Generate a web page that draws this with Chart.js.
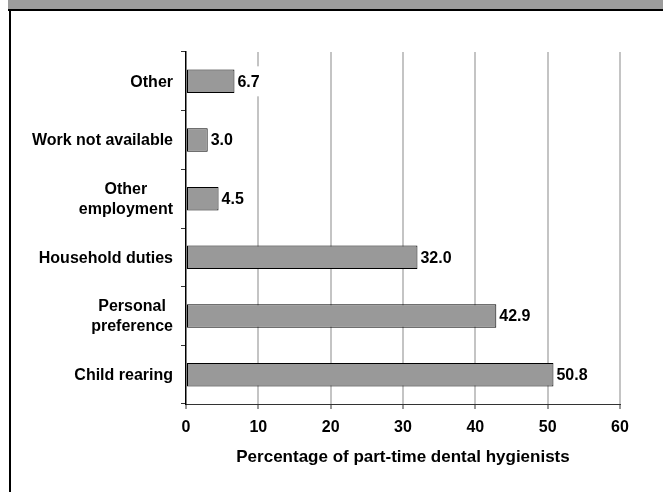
<!DOCTYPE html>
<html>
<head>
<meta charset="utf-8">
<script src="https://cdn.jsdelivr.net/npm/chart.js@4/dist/chart.umd.min.js"></script>
<style>
    html, body { margin: 0; padding: 0; background: #fff; }
    #wrap { position: relative; width: 663px; height: 492px; overflow: hidden; }
    #header { position: absolute; left: 8px; top: 0; width: 655px; height: 9px; background: #9c9c9c; border-bottom: 2px solid #000; }
    #leftLine { position: absolute; left: 9px; top: 9px; width: 2px; height: 483px; background: #000; }
    #chart { position: absolute; left: 0; top: 0; }
</style>
</head>
<body>
<div id="wrap">
    <canvas id="chart" width="663" height="492"></canvas>
    <div id="header"></div>
    <div id="leftLine"></div>
</div>
<script>
// categories, top to bottom
const categories = [
    ['Other'],
    ['Work not available'],
    ['Other', 'employment'],
    ['Household duties'],
    ['Personal', 'preference'],
    ['Child rearing']
];
const percentages = [6.7, 3.0, 4.5, 32.0, 42.9, 50.8];
const xTicks = [0, 10, 20, 30, 40, 50, 60];
const xTitle = 'Percentage of part-time dental hygienists';

const FONT = '"Liberation Sans", Arial, sans-serif';

// draws the category names (centred lines, right edge fixed) and the value labels
const labelPlugin = {
    id: 'labelPlugin',
    afterDatasetsDraw: function (chart) {
        const ctx = chart.ctx;
        const meta = chart.getDatasetMeta(0);
        ctx.save();
        ctx.font = 'bold 16px ' + FONT;
        ctx.textBaseline = 'middle';
        meta.data.forEach(function (bar, i) {
            const txt = percentages[i].toFixed(1);
            const w = ctx.measureText(txt).width;
            const x = bar.x + 3;
            ctx.fillStyle = '#fff';
            ctx.fillRect(x - 1, bar.y - 15, w + 3, 30);
            ctx.fillStyle = '#000';
            ctx.textAlign = 'left';
            ctx.fillText(txt, x, bar.y + 1);
        });
        ctx.restore();
    },
    afterDraw: function (chart) {
        const ctx = chart.ctx;
        const yScale = chart.scales.y;
        const right = yScale.right - 13;
        ctx.save();
        ctx.font = 'bold 16px ' + FONT;
        ctx.fillStyle = '#000';
        ctx.textBaseline = 'middle';
        ctx.textAlign = 'center';
        categories.forEach(function (lines, i) {
            const y = yScale.getPixelForTick(i);
            let widest = 0;
            lines.forEach(function (l) { widest = Math.max(widest, ctx.measureText(l).width); });
            const cx = right - widest / 2;
            const lineH = 20;
            const top = y - (lines.length - 1) * lineH / 2;
            lines.forEach(function (l, k) {
                ctx.fillText(l, cx, top + k * lineH + 1);
            });
        });
        ctx.restore();
    }
};

new Chart(document.getElementById('chart').getContext('2d'), {
    type: 'bar',
    data: {
        labels: categories,
        datasets: [{
            data: percentages,
            backgroundColor: '#999999',
            borderColor: '#000000',
            borderWidth: 1,
            borderSkipped: false,
            categoryPercentage: 1.0,
            barPercentage: 0.4
        }]
    },
    options: {
        indexAxis: 'y',
        responsive: false,
        animation: false,
        devicePixelRatio: 1,
        layout: { padding: { left: 12, top: 52, right: 43, bottom: 24 } },
        plugins: {
            legend: { display: false },
            tooltip: { enabled: false }
        },
        scales: {
            x: {
                min: 0,
                max: 60,
                afterBuildTicks: function (scale) {
                    scale.ticks = xTicks.map(function (v) { return { value: v }; });
                },
                afterFit: function (scale) { scale.height = 64; },
                grid: {
                    color: function (c) { return c.tick && c.tick.value === 0 ? 'rgba(0,0,0,0)' : '#c4c4c4'; },
                    lineWidth: 2,
                    tickColor: '#333',
                    tickWidth: 1,
                    tickLength: 5
                },
                border: { color: '#333', width: 1 },
                ticks: {
                    color: '#000',
                    padding: 9,
                    maxRotation: 0,
                    font: { family: FONT, size: 16, weight: 'bold' }
                },
                title: {
                    display: true,
                    text: xTitle,
                    color: '#000',
                    padding: { top: 10, bottom: 0 },
                    font: { family: FONT, size: 17, weight: 'bold' }
                }
            },
            y: {
                afterFit: function (scale) { scale.width = 174; },
                grid: {
                    offset: true,
                    drawOnChartArea: false,
                    drawTicks: true,
                    tickLength: 5,
                    color: '#333',
                    tickColor: '#333'
                },
                border: { color: '#000', width: 1.5 },
                ticks: { display: false }
            }
        }
    },
    plugins: [labelPlugin]
});
</script>
</body>
</html>
